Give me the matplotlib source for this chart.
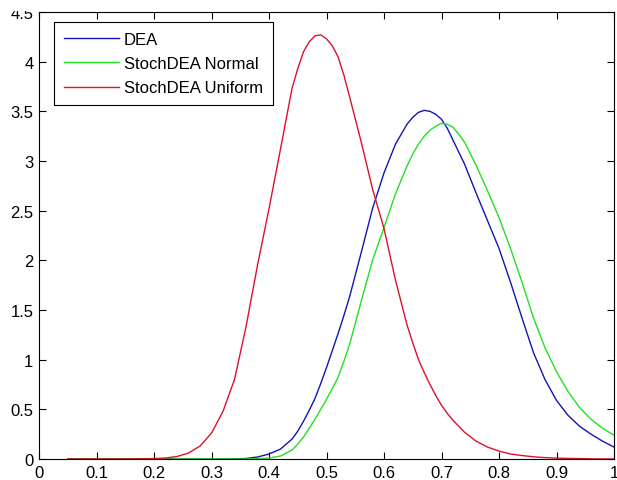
import matplotlib
matplotlib.use('Agg')
import matplotlib.pyplot as plt
from matplotlib.ticker import FormatStrFormatter
from matplotlib.patches import Rectangle

x = [0.05, 0.10, 0.15, 0.20, 0.22, 0.24, 0.26, 0.28, 0.30, 0.32, 0.34,
     0.36, 0.38, 0.40, 0.42, 0.44,
     0.45, 0.46, 0.47, 0.48, 0.49, 0.50, 0.51, 0.52, 0.53, 0.54,
     0.56, 0.58, 0.60, 0.62, 0.64,
     0.65, 0.66, 0.67, 0.68, 0.69, 0.70, 0.71, 0.72, 0.73, 0.74,
     0.76, 0.78, 0.80, 0.82, 0.84, 0.86, 0.88, 0.90, 0.92, 0.94, 0.96, 0.98, 1.00]

dea = [0, 0, 0, 0, 0, 0, 0, 0, 0, 0, 0.002, 0.005, 0.02, 0.05, 0.10, 0.20,
       0.28, 0.38, 0.49, 0.61, 0.76, 0.92, 1.09, 1.26, 1.44, 1.63,
       2.07, 2.52, 2.88, 3.17, 3.37,
       3.44, 3.49, 3.51, 3.50, 3.47, 3.42, 3.33, 3.21, 3.09, 2.97,
       2.68, 2.40, 2.12, 1.78, 1.42, 1.07, 0.80, 0.59, 0.44, 0.33, 0.25, 0.18, 0.12]

stoch_normal = [0, 0, 0, 0, 0, 0, 0, 0, 0, 0, 0, 0, 0.003, 0.01, 0.03, 0.09,
                0.15, 0.22, 0.31, 0.40, 0.50, 0.60, 0.71, 0.82, 0.98, 1.15,
                1.58, 2.00, 2.33, 2.67, 2.95,
                3.07, 3.17, 3.25, 3.31, 3.35, 3.38, 3.37, 3.34, 3.27, 3.19,
                2.96, 2.70, 2.43, 2.12, 1.78, 1.42, 1.12, 0.88, 0.68, 0.52, 0.40, 0.31, 0.24]

stoch_uniform = [0, 0, 0, 0.004, 0.01, 0.025, 0.06, 0.13, 0.26, 0.48, 0.80,
                 1.33, 1.95, 2.52, 3.12, 3.73,
                 3.93, 4.10, 4.20, 4.26, 4.27, 4.23, 4.16, 4.05, 3.87, 3.65,
                 3.20, 2.72, 2.32, 1.80, 1.35,
                 1.17, 1.00, 0.87, 0.75, 0.64, 0.54, 0.46, 0.39, 0.33, 0.27,
                 0.18, 0.12, 0.08, 0.05, 0.035, 0.022, 0.014, 0.009, 0.006,
                 0.004, 0.002, 0.001, 0.0]

labels = ['DEA', 'StochDEA Normal', 'StochDEA Uniform']
colors = ['#1414b4', '#22e022', '#e0102a']

plt.rcParams['font.family'] = ['Liberation Sans', 'DejaVu Sans']
plt.rcParams['font.size'] = 12

fig = plt.figure(figsize=(6.17, 4.81), dpi=100)
ax = fig.add_axes([39/617., 21/481., 575/617., 447/481.])

for y, lab, c in zip([dea, stoch_normal, stoch_uniform], labels, colors):
    ax.plot(x, y, color=c, lw=1.0, label=lab)

ax.set_xlim(0, 1)
ax.set_ylim(0, 4.5)
ax.set_xticks([i/10. for i in range(11)])
ax.set_yticks([i/2. for i in range(10)])
ax.xaxis.set_major_formatter(FormatStrFormatter('%g'))
ax.yaxis.set_major_formatter(FormatStrFormatter('%g'))
ax.tick_params(direction='in', length=5, width=0.8, top=True, right=True,
               labelsize=12, colors='black')
ax.tick_params(axis='x', pad=4)
ax.tick_params(axis='y', pad=4)
for s in ax.spines.values():
    s.set_linewidth(0.8)

leg = ax.legend(loc='upper left', bbox_to_anchor=(15/575., 1-10/447.),
                borderaxespad=0, fancybox=False, edgecolor='black',
                framealpha=1, fontsize=12, handlelength=3.3,
                handletextpad=0.3, labelspacing=0.55, borderpad=0.6)
leg.get_frame().set_linewidth(0.8)

# top of the figure is cropped in the original (cuts the "4.5" label)
fig.patches.append(Rectangle((0, 1-11/481.), 1, 11/481., transform=fig.transFigure,
                             color='white', zorder=10))

fig.savefig('out.png', dpi=100)
